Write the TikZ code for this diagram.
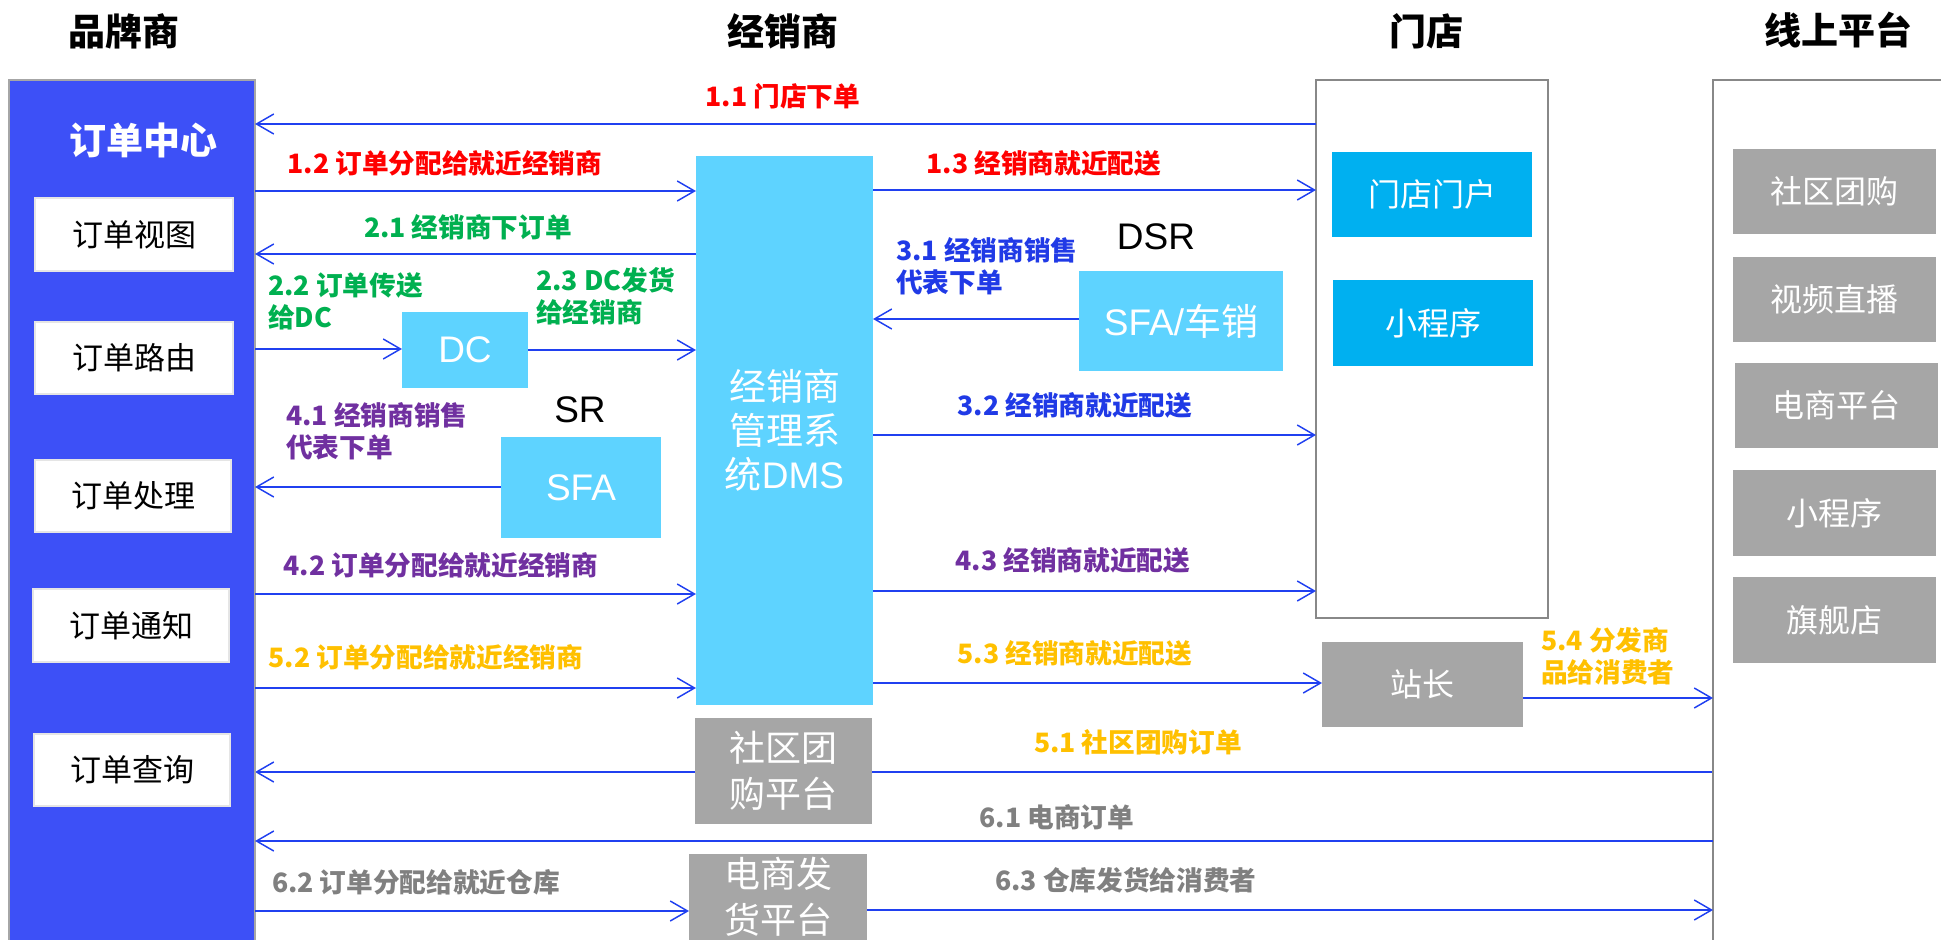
\documentclass[tikz,border=0pt]{standalone}
\usepackage{fontspec}
\setmainfont{Noto Sans CJK SC}
\newfontfamily\lat{Liberation Sans}
\usetikzlibrary{arrows.meta,fit}
\pgfdeclarelayer{bg}
\pgfsetlayers{bg,main}
\definecolor{panelblue}{RGB}{61,80,247}
\definecolor{dmsblue}{RGB}{94,211,255}
\definecolor{storeblue}{RGB}{0,176,240}
\definecolor{boxgray}{RGB}{166,166,166}
\definecolor{linegray}{RGB}{136,136,136}
\definecolor{arrowblue}{RGB}{32,64,240}
\definecolor{lred}{RGB}{255,0,0}
\definecolor{lgreen}{RGB}{0,176,80}
\definecolor{lblue}{RGB}{32,58,230}
\definecolor{lpurple}{RGB}{112,48,160}
\definecolor{lorange}{RGB}{255,192,0}
\definecolor{lgray}{RGB}{128,128,128}
\begin{document}
\begin{tikzpicture}[x=0.75pt,y=-0.75pt,
  title/.style={font=\fontsize{27.75pt}{32pt}\selectfont\bfseries, inner sep=0pt},
  lab/.style={font=\fontsize{20pt}{24pt}\selectfont\bfseries, inner sep=0pt},
  lab2/.style={lab, align=left, anchor=west},
  basebox/.style={inner sep=0pt, outer sep=0pt},
  wbox/.style={basebox, fill=white, draw=black!10, line width=1.5pt},
  cbox/.style={basebox, fill=dmsblue},
  sbox/.style={basebox, fill=storeblue},
  gbox/.style={basebox, fill=boxgray},
  frame/.style={basebox, draw=linegray, line width=2pt, fill=white},
  ttxt/.style={inner sep=0pt, font=\fontsize{23.25pt}{28pt}\selectfont},
  wtxt/.style={inner sep=0pt, text=white, font=\fontsize{24pt}{28pt}\selectfont},
  btxt/.style={inner sep=0pt, text=white, font=\fontsize{27.75pt}{33pt}\selectfont, align=center},
  gtxt/.style={inner sep=0pt, text=white, font=\fontsize{27pt}{34.5pt}\selectfont, align=center},
  arr/.style={draw=arrowblue, line width=1.1pt, -{Straight Barb[length=13pt,width=15pt]}},
  plain/.style={inner sep=0pt, font=\fontsize{27.75pt}{33pt}\selectfont}
]
\useasboundingbox (0,0) rectangle (1941,939);
\begin{scope}
\clip (0,0) rectangle (1941,939);

% titles
\node[title] (t1) at (124,31) {品牌商};
\node[title] (t2) at (783,31) {经销商};
\node[title] (t3) at (1426,31) {门店};
\node[title] (t4) at (1838,30) {线上平台};

% left panel
\node[basebox, fill=panelblue, draw=black!35, line width=1.5pt, fit={(9,80) (255,960)}] (panel) {};
\node[inner sep=0pt, text=white, font=\fontsize{27.75pt}{32pt}\selectfont\bfseries] (oc) at (143,140) {订单中心};
\node[wbox, fit={(35,198) (233,271)}] (v1) {};
\node[ttxt] (v1t) at (v1.center) {订单视图};
\node[wbox, fit={(35,322) (233,394)}] (v2) {};
\node[ttxt] (v2t) at (v2.center) {订单路由};
\node[wbox, fit={(35,460) (231,532)}] (v3) {};
\node[ttxt] (v3t) at (v3.center) {订单处理};
\node[wbox, fit={(33,589) (229,662)}] (v4) {};
\node[ttxt] (v4t) at (v4.center) {订单通知};
\node[wbox, fit={(34,734) (230,806)}] (v5) {};
\node[ttxt] (v5t) at (v5.center) {订单查询};

% distributor column
\node[cbox, fit={(696,156) (873,705)}] (dms) {};
\node[btxt] (dmst) at (dms.center) {经销商\\管理系\\统{\lat DMS}};
\node[cbox, fit={(402,312) (528,388)}] (dc) {};
\node[btxt] (dct) at (dc.center) {\lat DC};
\node[plain] (sr) at (580,410) {\lat SR};
\node[cbox, fit={(501,437) (661,538)}] (sfa) {};
\node[btxt] (sfat) at (sfa.center) {\lat SFA};
\node[plain] (dsr) at (1156,237) {\lat DSR};
\node[cbox, fit={(1079,271) (1283,371)}] (sfacx) {};
\node[btxt] (sfacxt) at (sfacx.center) {{\lat SFA/}车销};
\node[gbox, fit={(695,718) (872,824)}] (sq) {};
\node[gtxt] (sqt) at (sq.center) {社区团\\购平台};
\node[gbox, fit={(689,854) (867,940)}] (ds) {};
\node[gtxt] (dst) at (ds.center) {电商发\\货平台};

% store
\node[frame, fit={(1316,80) (1548,618)}] (store) {};
\node[sbox, fit={(1332,152) (1532,237)}] (mh) {};
\node[wtxt] (mht) at (mh.center) {门店门户};
\node[sbox, fit={(1333,280) (1533,366)}] (xcx) {};
\node[wtxt] (xcxt) at (xcx.center) {小程序};
\node[gbox, fit={(1322,642) (1523,727)}] (zz) {};
\node[wtxt] (zzt) at (zz.center) {站长};

% online platforms
\node[frame, fit={(1713,80) (1960,960)}] (online) {};
\node[gbox, fit={(1733,149) (1936,234)}] (o1) {};
\node[wtxt] (o1t) at (o1.center) {社区团购};
\node[gbox, fit={(1733,257) (1936,342)}] (o2) {};
\node[wtxt] (o2t) at (o2.center) {视频直播};
\node[gbox, fit={(1735,363) (1938,448)}] (o3) {};
\node[wtxt] (o3t) at (o3.center) {电商平台};
\node[gbox, fit={(1733,470) (1936,556)}] (o4) {};
\node[wtxt] (o4t) at (o4.center) {小程序};
\node[gbox, fit={(1733,577) (1936,663)}] (o5) {};
\node[wtxt] (o5t) at (o5.center) {旗舰店};

% arrow heights
\coordinate (y11) at (0,124);
\coordinate (y12) at (0,191);
\coordinate (y13) at (0,190);
\coordinate (y21) at (0,254);
\coordinate (y22) at (0,349);
\coordinate (y23) at (0,350);
\coordinate (y31) at (0,319);
\coordinate (y32) at (0,435);
\coordinate (y41) at (0,487);
\coordinate (y42) at (0,594);
\coordinate (y43) at (0,591);
\coordinate (y52) at (0,688);
\coordinate (y53) at (0,683);
\coordinate (y54) at (0,698);
\coordinate (y51) at (0,772);
\coordinate (y61) at (0,841);
\coordinate (y62) at (0,911);
\coordinate (y63) at (0,910);

\draw[arr] (store.west |- y11) -- (panel.east |- y11);
\draw[arr] (panel.east |- y12) -- (dms.west |- y12);
\draw[arr] (dms.east |- y13) -- (store.west |- y13);
\draw[arr] (dms.west |- y21) -- (panel.east |- y21);
\draw[arr] (panel.east |- y22) -- (dc.west |- y22);
\draw[arr] (dc.east |- y23) -- (dms.west |- y23);
\draw[arr] (sfacx.west |- y31) -- (dms.east |- y31);
\draw[arr] (dms.east |- y32) -- (store.west |- y32);
\draw[arr] (sfa.west |- y41) -- (panel.east |- y41);
\draw[arr] (panel.east |- y42) -- (dms.west |- y42);
\draw[arr] (dms.east |- y43) -- (store.west |- y43);
\draw[arr] (panel.east |- y52) -- (dms.west |- y52);
\draw[arr] (dms.east |- y53) -- (zz.west |- y53);
\draw[arr] (zz.east |- y54) -- (online.west |- y54);
\begin{pgfonlayer}{bg}
\draw[arr] (online.west |- y51) -- (panel.east |- y51);
\end{pgfonlayer}
\draw[arr] (online.west |- y61) -- (panel.east |- y61);
\draw[arr] (panel.east |- y62) -- (ds.west |- y62);
\draw[arr] (ds.east |- y63) -- (online.west |- y63);

% labels
\node[lab, text=lred] (l11) at (783,96) {1.1 门店下单};
\node[lab, text=lred] (l12) at (445,163) {1.2 订单分配给就近经销商};
\node[lab, text=lred] (l13) at (1044,163) {1.3 经销商就近配送};
\node[lab, text=lgreen] (l21) at (468,227) {2.1 经销商下订单};
\node[lab2, text=lgreen] (l22) at (268,301) {2.2 订单传送\\给DC};
\node[lab2, text=lgreen] (l23) at (536,296) {2.3 DC发货\\给经销商};
\node[lab2, text=lblue] (l31) at (896,266) {3.1 经销商销售\\代表下单};
\node[lab, text=lblue] (l32) at (1075,405) {3.2 经销商就近配送};
\node[lab2, text=lpurple] (l41) at (286,431) {4.1 经销商销售\\代表下单};
\node[lab, text=lpurple] (l42) at (441,565) {4.2 订单分配给就近经销商};
\node[lab, text=lpurple] (l43) at (1073,560) {4.3 经销商就近配送};
\node[lab, text=lorange] (l52) at (426,657) {5.2 订单分配给就近经销商};
\node[lab, text=lorange] (l53) at (1075,653) {5.3 经销商就近配送};
\node[lab2, text=lorange] (l54) at (1541,656) {5.4 分发商\\品给消费者};
\node[lab, text=lorange] (l51) at (1138,742) {5.1 社区团购订单};
\node[lab, text=lgray] (l61) at (1057,817) {6.1 电商订单};
\node[lab, text=lgray] (l62) at (416,882) {6.2 订单分配给就近仓库};
\node[lab, text=lgray] (l63) at (1126,880) {6.3 仓库发货给消费者};
\end{scope}
\end{tikzpicture}
\end{document}
